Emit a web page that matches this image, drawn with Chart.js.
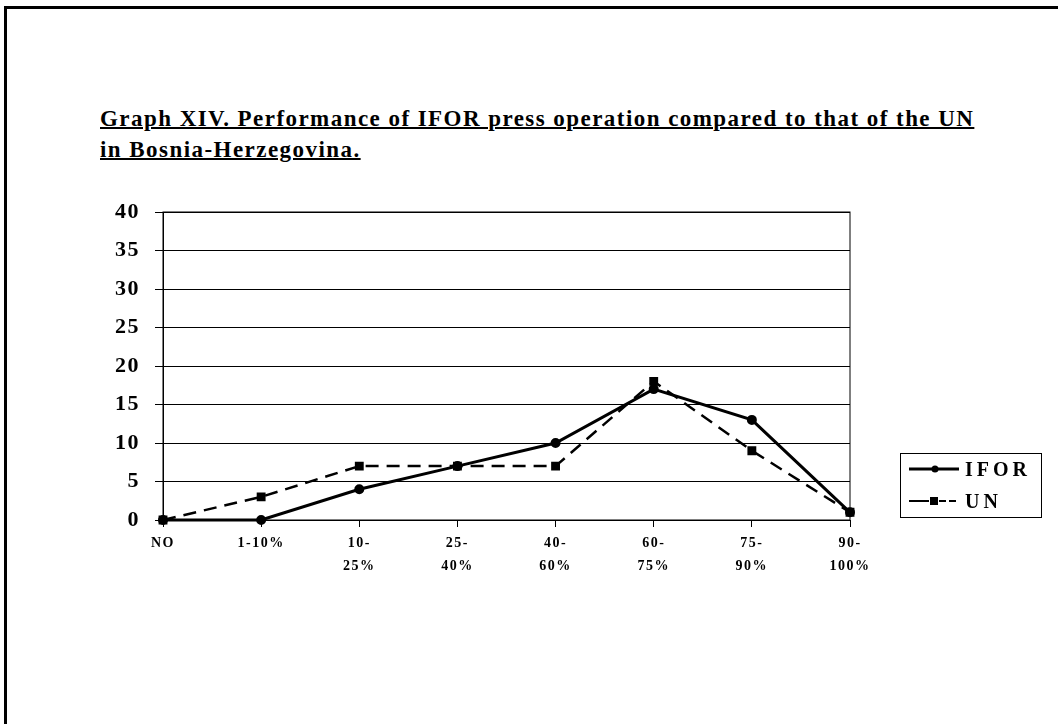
<!DOCTYPE html>
<html lang="en">
<head>
  <meta charset="UTF-8" />
  <title>Graph XIV</title>
  <script src="https://cdn.jsdelivr.net/npm/chart.js"></script>
  <style>
    body {
      margin: 0;
      background: #fff;
      width: 1058px;
      height: 724px;
      overflow: hidden;
      font-family: 'Liberation Serif', 'Times New Roman', serif;
    }

    .frame {
      position: absolute;
      left: 4px;
      top: 6px;
      width: 1060px;
      height: 730px;
      border-top: 3px solid #000;
      border-left: 3px solid #000;
    }

    .title {
      position: absolute;
      left: 100px;
      top: 103px;
      font-size: 23px;
      font-weight: bold;
      letter-spacing: 1.45px;
      line-height: 31px;
      text-decoration: underline;
      text-decoration-thickness: 2px;
      color: #000;
    }

    canvas {
      position: absolute;
      left: 0;
      top: 0;
    }

    .legend {
      position: absolute;
      left: 900px;
      top: 453px;
      width: 140px;
      height: 63px;
      border: 1px solid #000;
      font-weight: bold;
      font-size: 20px;
      letter-spacing: 4px;
    }

    .legend div {
      position: absolute;
      left: 8px;
      height: 24px;
      display: flex;
      align-items: center;
    }

    .legend svg {
      margin-right: 6px;
    }
  </style>
</head>
<body>
  <div class="frame"></div>
  <div class="title">Graph XIV. Performance of IFOR press operation compared to that of the UN<br>in Bosnia-Herzegovina.</div>

  <canvas id="chart" width="1058" height="724"></canvas>

  <div class="legend">
    <div style="top: 3px">
      <svg width="50" height="10"><line x1="0" y1="5" x2="50" y2="5" stroke="#000" stroke-width="3" /><circle cx="26" cy="5" r="3.5" fill="#000" /></svg>IFOR
    </div>
    <div style="top: 35px">
      <svg width="50" height="10"><line x1="0" y1="5" x2="20" y2="5" stroke="#000" stroke-width="2" /><line x1="30" y1="5" x2="50" y2="5" stroke="#000" stroke-width="2" stroke-dasharray="7 3" /><rect x="21" y="1" width="8" height="8" fill="#000" /></svg>UN
    </div>
  </div>

  <script>
    const categories = [["NO"], ["1-10%"], ["10-", "25%"], ["25-", "40%"], ["40-", "60%"], ["60-", "75%"], ["75-", "90%"], ["90-", "100%"]];
    const iforValues = [0, 0, 4, 7, 10, 17, 13, 1];
    const unValues = [0, 3, 7, 7, 7, 18, 9, 1];
    const yTicks = [0, 5, 10, 15, 20, 25, 30, 35, 40];

    // box round the plot area, like the Excel chart
    const plotBorder = {
      id: "plotBorder",
      beforeDraw(chart) {
        // the scan's labels are set a little wide
        chart.ctx.letterSpacing = "1.5px";
      },
      afterDraw(chart) {
        const a = chart.chartArea;
        const c = chart.ctx;
        c.save();
        c.strokeStyle = "#000";
        c.lineWidth = 1;
        c.strokeRect(a.left, a.top, a.right - a.left, a.bottom - a.top);
        c.restore();
      }
    };

    const ctx = document.getElementById("chart").getContext("2d");

    new Chart(ctx, {
      type: "line",
      data: {
        labels: categories,
        datasets: [
          {
            label: "IFOR",
            data: iforValues,
            borderColor: "#000",
            backgroundColor: "#000",
            borderWidth: 3,
            pointStyle: "circle",
            pointRadius: 3.5,
            tension: 0,
            clip: false
          },
          {
            label: "UN",
            data: unValues,
            borderColor: "#000",
            backgroundColor: "#000",
            borderWidth: 2.5,
            borderDash: [13, 8],
            pointStyle: "rect",
            pointRadius: 4.5,
            tension: 0,
            clip: false
          }
        ]
      },
      options: {
        responsive: false,
        animation: false,
        layout: {
          padding: { left: 103, top: 212, right: 208, bottom: 144 }
        },
        scales: {
          x: {
            offset: false,
            grid: {
              drawOnChartArea: false,
              color: "#000",
              tickLength: 7
            },
            border: { color: "#000", width: 1 },
            ticks: {
              color: "#000",
              maxRotation: 0,
              autoSkip: false,
              padding: 5,
              font: { family: "'Liberation Serif'", size: 14, weight: "bold", lineHeight: 1.65 }
            },
            afterFit: s => { s.height = 60; }
          },
          y: {
            min: 0,
            max: 40,
            afterBuildTicks: s => { s.ticks = yTicks.map(v => ({ value: v })); },
            grid: {
              color: "#000",
              lineWidth: 1,
              tickLength: 8
            },
            border: { color: "#000", width: 1 },
            ticks: {
              color: "#000",
              padding: 15,
              font: { family: "'Liberation Serif'", size: 22, weight: "bold" }
            },
            afterFit: s => { s.width = 60; }
          }
        },
        plugins: {
          legend: { display: false },
          tooltip: { enabled: false }
        }
      },
      plugins: [plotBorder]
    });
  </script>
</body>
</html>
